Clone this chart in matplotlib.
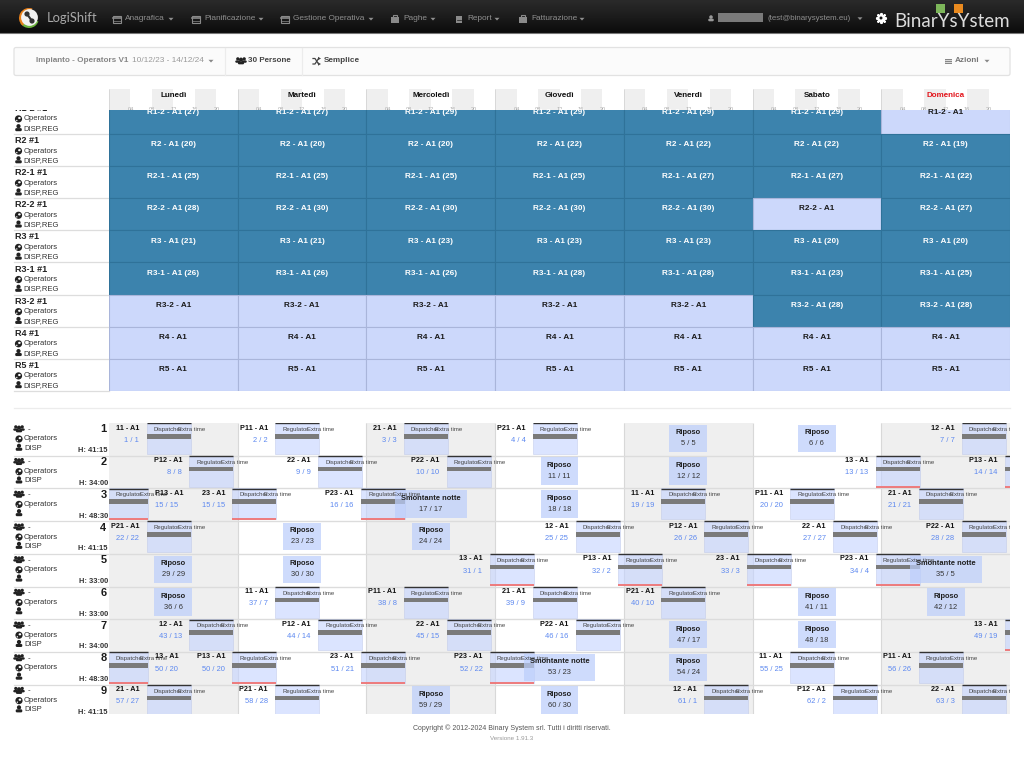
import matplotlib
matplotlib.use('Agg')
import matplotlib.pyplot as plt
from matplotlib.patches import Rectangle, Circle, FancyBboxPatch, Wedge, Ellipse
import numpy as np

plt.rcParams['font.family'] = ['Liberation Sans', 'DejaVu Sans']

days = ['Lunedì', 'Martedì', 'Mercoledì', 'Giovedì', 'Venerdì', 'Sabato', 'Domenica']
hour_ticks = ['04', '08', '12', '16', '20']

# upper table: number in brackets per day, None = not covered
role_names = ['R1-2', 'R2', 'R2-1', 'R2-2', 'R3', 'R3-1', 'R3-2', 'R4', 'R5']
role_counts = [
    [27, 27, 29, 29, 29, 29, None],
    [20, 20, 20, 22, 22, 22, 19],
    [25, 25, 25, 25, 27, 27, 22],
    [28, 30, 30, 30, 30, None, 27],
    [21, 21, 23, 23, 23, 20, 20],
    [26, 26, 26, 28, 28, 23, 25],
    [None, None, None, None, None, 28, 28],
    [None] * 7,
    [None] * 7,
]

# lower table: one entry per day for each person
person_hours = ['41:15', '34:00', '48:30', '41:15', '33:00', '33:00', '34:00', '48:30', '41:15']
person_roles = ['DISP', 'DISP', '', 'DISP', '', '', 'DISP', '', 'DISP']
person_shifts = [
    ['11', 'P11', '21', 'P21', 'Riposo', 'Riposo', '12'],
    ['P12', '22', 'P22', 'Riposo', 'Riposo', '13', 'P13'],
    ['23', 'P23', 'Smontante notte', 'Riposo', '11', 'P11', '21'],
    ['P21', 'Riposo', 'Riposo', '12', 'P12', '22', 'P22'],
    ['Riposo', 'Riposo', '13', 'P13', '23', 'P23', 'Smontante notte'],
    ['Riposo', '11', 'P11', '21', 'P21', 'Riposo', 'Riposo'],
    ['12', 'P12', '22', 'P22', 'Riposo', 'Riposo', '13'],
    ['P13', '23', 'P23', 'Smontante notte', 'Riposo', '11', 'P11'],
    ['21', 'P21', 'Riposo', 'Riposo', '12', 'P12', '22'],
]
person_counts = [
    ['1 / 1', '2 / 2', '3 / 3', '4 / 4', '5 / 5', '6 / 6', '7 / 7'],
    ['8 / 8', '9 / 9', '10 / 10', '11 / 11', '12 / 12', '13 / 13', '14 / 14'],
    ['15 / 15', '16 / 16', '17 / 17', '18 / 18', '19 / 19', '20 / 20', '21 / 21'],
    ['22 / 22', '23 / 23', '24 / 24', '25 / 25', '26 / 26', '27 / 27', '28 / 28'],
    ['29 / 29', '30 / 30', '31 / 1', '32 / 2', '33 / 3', '34 / 4', '35 / 5'],
    ['36 / 6', '37 / 7', '38 / 8', '39 / 9', '40 / 10', '41 / 11', '42 / 12'],
    ['43 / 13', '44 / 14', '45 / 15', '46 / 16', '47 / 17', '48 / 18', '49 / 19'],
    ['50 / 20', '51 / 21', '52 / 22', '53 / 23', '54 / 24', '55 / 25', '56 / 26'],
    ['57 / 27', '58 / 28', '59 / 29', '60 / 30', '61 / 1', '62 / 2', '63 / 3'],
]
# night shift from the week before that runs into monday morning
carry_shifts = {2: ('P13', '15 / 15'), 7: ('13', '50 / 20')}
shift_start = {'1': 7, '2': 15, '3': 23}
shift_length = 8

menu_names = ['Anagrafica', 'Pianificazione', 'Gestione Operativa', 'Paghe', 'Report', 'Fatturazione']
menu_icons = ['cal', 'cal', 'cal', 'case', 'doc', 'case']
menu_x = [125, 204, 293, 403, 467, 531]
caret_x = [171, 261, 371, 433, 497, 582]

HOUR_PX = 128.72 / 24
ROW_PX = 32.7


def px(size):
    return size * 0.72


fig = plt.figure(figsize=(10.24, 7.68), dpi=100)
page = fig.add_axes([0, 0, 1, 1])
page.set_xlim(0, 1024)
page.set_ylim(768, 0)
page.axis('off')


def sub_axes(left, top, right, bottom):
    a = fig.add_axes([left / 1024, 1 - bottom / 768, (right - left) / 1024, (bottom - top) / 768])
    a.axis('off')
    return a


def caret(x, y, color):
    page.fill([x - 2.5, x + 2.5, x], [y - 1.2, y - 1.2, y + 1.5], color=color, lw=0)


def person_icon(x, y, color='#222222', s=1.0):
    page.add_patch(Circle((x, y - 1.7 * s), 2.1 * s, color=color, lw=0))
    page.add_patch(FancyBboxPatch((x - 3.3 * s, y + 0.2 * s), 6.6 * s, 3.1 * s,
                                  boxstyle='round,pad=0,rounding_size=1.3', color=color, lw=0))


def globe_icon(x, y):
    page.add_patch(Circle((x, y), 3.6, color='#222222', lw=0))
    page.add_patch(Ellipse((x + 0.9, y - 0.9), 2.6, 2.2, color='white', lw=0))
    page.add_patch(Ellipse((x - 1.7, y + 1.6), 1.3, 1.5, color='white', lw=0))


def group_icon(x, y):
    person_icon(x - 3.2, y - 0.8, s=0.78)
    person_icon(x + 3.2, y - 0.8, s=0.78)
    person_icon(x, y + 0.2, s=0.95)


def menu_icon(kind, x, y, color='#8a8a8a'):
    if kind == 'cal':
        page.add_patch(Rectangle((x - 3.7, y - 3), 7.4, 7, fc='none', ec=color, lw=0.8))
        page.plot([x - 3.7, x + 3.7], [y - 1, y - 1], color=color, lw=1.2)
        page.plot([x - 3.7, x + 3.7], [y + 1.5, y + 1.5], color=color, lw=0.5)
    elif kind == 'case':
        page.add_patch(Rectangle((x - 4.2, y - 2.2), 8.4, 6, fc=color, ec='none'))
        page.add_patch(Rectangle((x - 1.8, y - 3.8), 3.6, 2, fc='none', ec=color, lw=0.8))
    else:
        page.add_patch(Rectangle((x - 2.8, y - 3.5), 5.6, 7.5, fc=color, ec='none'))
        page.plot([x - 1.6, x + 1.6], [y + 1, y + 1], color='#1a1a1a', lw=0.5)


# top bar
grad = np.linspace(0, 1, 34).reshape(-1, 1)
page.imshow(grad, extent=(0, 1024, 33, 0), cmap=matplotlib.colors.LinearSegmentedColormap.from_list(
    'nav', ['#2a2a2a', '#1c1c1c', '#0c0c0c']), aspect='auto', zorder=0)
page.set_xlim(0, 1024)
page.set_ylim(768, 0)
page.plot([0, 1024], [33, 33], color='#777777', lw=0.8)

page.add_patch(Wedge((29, 18), 10, 20, 150, color='#6db33f', lw=0))
page.add_patch(Wedge((29, 18), 10, 130, 290, color='#e8801a', lw=0))
page.add_patch(Circle((29.5, 17.5), 8.4, color='#f2f2f2', lw=0))
page.add_patch(Circle((27, 14), 2.6, color='#333333', lw=0))
page.add_patch(Circle((32, 21), 2.6, color='#333333', lw=0))
page.plot([27, 32], [14, 21], color='#333333', lw=1.5)
page.text(46.5, 18, 'LogiShift', color='#a8a8a8', fontsize=px(13), va='center', family='Lato')

for name, kind, x, cx in zip(menu_names, menu_icons, menu_x, caret_x):
    page.text(x, 19, name, color='#8f8f8f', fontsize=px(8.3), va='center')
    menu_icon(kind, x - 8, 19)
    caret(cx, 19, '#8f8f8f')

person_icon(711, 18.5, color='#999999', s=0.85)
page.add_patch(Rectangle((718, 13), 45, 9, color='#7a7a7a', lw=0))
page.text(767, 18.5, '(test@binarysystem.eu)', color='#8f8f8f', fontsize=px(7.9), va='center')
caret(860, 18.5, '#8f8f8f')
page.scatter([881], [18], marker=(8, 2, 0), s=42, color='white', lw=1.6)
page.add_patch(Circle((881, 18), 3.6, color='white', lw=0, zorder=4))
page.add_patch(Circle((881, 18), 1.5, color='#151515', lw=0, zorder=5))
page.text(894.5, 21.5, 'BinarYsYstem', color='#dcdcdc', fontsize=px(18.8), va='center', family='Lato')
page.add_patch(Rectangle((936, 4), 9, 9, color='#7db65a', lw=0))
page.add_patch(Rectangle((954, 4), 9, 9, color='#e98a1f', lw=0))

# toolbar
page.add_patch(FancyBboxPatch((14, 47.5), 996, 28, boxstyle='round,pad=0,rounding_size=2',
                              fc='#fbfbfb', ec='#e2e2e2', lw=0.9))
page.text(36, 61, 'Impianto - Operators V1', color='#868686', fontsize=px(8.1), fontweight='bold', va='center')
page.text(132.5, 61, '10/12/23 - 14/12/24', color='#9a9a9a', fontsize=px(8.3), va='center')
caret(211, 61, '#888888')
page.plot([225, 225], [48, 75], color='#ececec', lw=0.9)
page.plot([302, 302], [48, 75], color='#ececec', lw=0.9)
group_icon(241, 61)
page.text(247.5, 61, '30 Persone', color='#444444', fontsize=px(8), fontweight='bold', va='center')
# shuffle symbol, no installed font has it
page.plot([313, 315, 318.5], [64, 64, 58.5], color='#444444', lw=0.9)
page.plot([313, 315, 318.5], [58.5, 58.5, 64], color='#444444', lw=0.9)
page.fill([318, 318, 321], [56.8, 60.2, 58.5], color='#444444', lw=0)
page.fill([318, 318, 321], [62.3, 65.7, 64], color='#444444', lw=0)
page.text(323.5, 61, 'Semplice', color='#444444', fontsize=px(8.1), fontweight='bold', va='center')
page.add_patch(Rectangle((944.5, 58.5), 7.5, 5.5, fc='#888888', ec='none'))
page.plot([944.5, 952], [60.3, 60.3], color='white', lw=0.5)
page.plot([944.5, 952], [62.2, 62.2], color='white', lw=0.5)
page.text(955, 61, 'Azioni', color='#777777', fontsize=px(8.2), fontweight='bold', va='center')
caret(987, 61, '#888888')

# day header with the 4 hour stripes
head = sub_axes(109, 89, 1010, 110)
head.set_xlim(0, 168)
head.set_ylim(1, 0)
for d in range(7):
    start = d * 24
    head.bar([start, start + 8, start + 16], 1, width=4, bottom=0, align='edge', color='#efefef', lw=0)
    head.vlines(start, 0, 1, color='#d8d8d8', lw=0.7)
    head.text(start + 12, 0.33, days[d], ha='center', va='center', fontsize=px(8), fontweight='bold',
              color='#e3141b' if days[d] == 'Domenica' else '#111111')
    for t, lab in zip(range(4, 24, 4), hour_ticks):
        head.text(start + t, 0.97, lab, ha='center', va='center', fontsize=px(5.5), color='#aaaaaa')

# upper table
grid = sub_axes(109, 110, 1010, 391)
grid.set_xlim(0, 7)
grid.set_ylim(9, 0.255)
for r, (name, counts) in enumerate(zip(role_names, role_counts)):
    for d, c in enumerate(counts):
        covered = c is not None
        grid.bar(d, 1, bottom=r, width=1, align='edge',
                 color='#3c83ad' if covered else '#ccd8fb',
                 edgecolor='#2f7299' if covered else '#a9b5da', lw=0.8)
        label = f'{name} - A1 ({c})' if covered else f'{name} - A1'
        grid.text(d + 0.5, r + 0.335, label, ha='center', va='center', fontsize=px(8.2),
                  fontweight='bold', color='white' if covered else '#1a1a1a')
    top = 101.9 + r * 32.125
    t1 = page.text(15, top + 6.5, f'{name} #1', fontsize=px(9), fontweight='bold', va='center', color='#222222')
    t1.set_clip_path(Rectangle((0, 109.5), 109, 300, transform=page.transData))
    t1.set_clip_on(True)
    page.text(24, top + 17, 'Operators', fontsize=px(7.7), va='center', color='#333333')
    globe_icon(18.5, top + 17)
    person_icon(18.5, top + 26)
    page.text(23, top + 26.5, 'DISP,REG', fontsize=px(7.7), va='center', color='#333333')
    page.plot([14, 109], [top + 32, top + 32], color='#dddddd', lw=0.9)

page.plot([14, 1010], [408, 408], color='#ececec', lw=0.9)

# lower table
chart = sub_axes(109, 423, 1010, 713.7)
chart.set_xlim(0, 168)
n_rows = len(person_shifts)
chart.set_ylim(290.7 / ROW_PX, 0)
for d in range(0, 7, 2):
    chart.axvspan(d * 24, (d + 1) * 24, color='#efefef', lw=0, zorder=0)
chart.vlines(np.arange(1, 7) * 24, 0, n_rows, color='#d8d8d8', lw=0.8, zorder=1)
chart.hlines(np.arange(1, n_rows), 0, 168, color='#dcdcdc', lw=1, zorder=1)


def shift_bar(row, start, length, code):
    night = code[-1] == '3'
    chart.bar(start, 31 / ROW_PX, bottom=row, width=length, align='edge', color='#c6d4ff', alpha=0.62,
              edgecolor='#b9c4e6', lw=0.5, zorder=2)
    chart.hlines(row + 0.3 / ROW_PX, start, start + length, color='#333333', lw=1, zorder=3)
    chart.bar(start, 4.6 / ROW_PX, bottom=row + 11 / ROW_PX, width=length, align='edge', color='#7a7a7a',
              lw=0, zorder=3)
    if night:
        chart.hlines(row + 30.8 / ROW_PX, start, start + length, color='#f07373', lw=1.3, zorder=4)
    job = 'Regulator' if code.startswith('P') else 'Dispatcher'
    chart.text(start + 7 / HOUR_PX, row + 6.5 / ROW_PX, job, fontsize=px(6), va='center', color='#444444', zorder=5,
               clip_on=True)
    chart.text(start + 31.5 / HOUR_PX, row + 6.5 / ROW_PX, 'Extra time', fontsize=px(6), va='center', color='#444444',
               zorder=5, clip_on=True)


def shift_label(row, h, code, count, ha):
    chart.text(h, row + 5 / ROW_PX, f'{code} - A1', fontsize=px(7.3), fontweight='bold', ha=ha, va='center',
               color='#111111', zorder=6, clip_on=True)
    chart.text(h, row + 17.3 / ROW_PX, count, fontsize=px(7.5), ha=ha, va='center', color='#5c88f0', zorder=6,
               clip_on=True)


for r in range(n_rows):
    if r in carry_shifts:
        code, count = carry_shifts[r]
        shift_bar(r, 0, 7.2, code[:-1] + '3')
        shift_label(r, 7.2 + 7 / HOUR_PX, code, count, 'left')
    for d in range(7):
        code = person_shifts[r][d]
        count = person_counts[r][d]
        if code in ('Riposo', 'Smontante notte'):
            width = 38 if code == 'Riposo' else 72
            mid = d * 24 + 12
            chart.bar(mid, 27.4 / ROW_PX, bottom=r + 1.7 / ROW_PX, width=width / HOUR_PX, color='#bccefb', alpha=0.72,
                      lw=0, zorder=4)
            chart.text(mid, r + 9.9 / ROW_PX, code, fontsize=px(7.5), fontweight='bold', ha='center', va='center',
                       color='#1f1f1f', zorder=6, clip_on=True)
            chart.text(mid, r + 20.8 / ROW_PX, count, fontsize=px(7.5), ha='center', va='center', color='#333333',
                       zorder=6, clip_on=True)
        else:
            start = d * 24 + shift_start[code[-1]]
            shift_bar(r, start, shift_length + 0.2, code)
            shift_label(r, start - 7.3 / HOUR_PX, code, count, 'right')

    top = 423 + r * ROW_PX
    group_icon(19, top + 6)
    page.text(27.5, top + 6.5, '-', fontsize=px(8), va='center', color='#333333')
    globe_icon(19, top + 16)
    page.text(24, top + 16, 'Operators', fontsize=px(7.7), va='center', color='#333333')
    person_icon(19, top + 24.5)
    if person_roles[r]:
        page.text(24, top + 25, person_roles[r], fontsize=px(7.7), va='center', color='#333333')
    page.text(106.5, top + 6.5, str(r + 1), fontsize=px(11), fontweight='bold', ha='right', va='center', color='#1a1a1a')
    h_text = page.text(108, top + 27.7, f'H: {person_hours[r]}', fontsize=px(7.5), fontweight='bold', ha='right',
                       va='center', color='#333333')
    h_text.set_clip_path(Rectangle((0, 400), 109, 313.7, transform=page.transData))
    h_text.set_clip_on(True)
    if r < n_rows - 1:
        page.plot([14, 109], [top + ROW_PX, top + ROW_PX], color='#dcdcdc', lw=0.9)

page.text(512, 728.5, 'Copyright © 2012-2024 Binary System srl. Tutti i diritti riservati.', fontsize=px(7),
          ha='center', va='center', color='#555555')
page.text(512, 738, 'Versione 1.91.3', fontsize=px(6.3), ha='center', va='center', color='#999999')

fig.savefig('out.png', dpi=100)
